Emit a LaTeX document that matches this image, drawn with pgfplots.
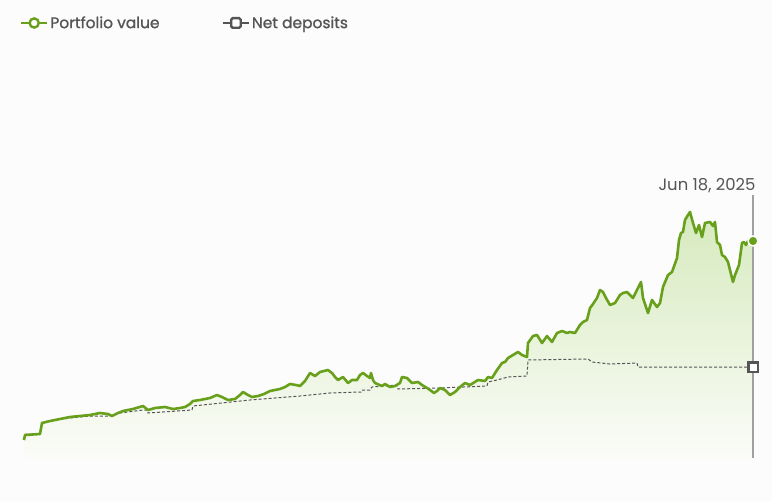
\documentclass[border=0pt]{standalone}
\usepackage{pgfplots}
\pgfplotsset{compat=1.18}
\usepackage{pgfplotstable}
\usepackage{fontspec}
\setmainfont{Poppins}
\newfontfamily\legfont[FakeBold=1.2]{Poppins}
\definecolor{pgreen}{RGB}{104,160,28}
\definecolor{dgrey}{RGB}{85,85,85}
\definecolor{bg}{RGB}{252,252,252}
\definecolor{vgrey}{RGB}{160,160,160}
\definecolor{ftop}{RGB}{214,234,190}
\definecolor{fbot}{RGB}{251,252,248}

\pgfplotsset{
 legcircle/.style={legend image code/.code={\draw[##1] (0bp,0bp) -- (26bp,0bp); \draw[##1,fill=white] (13bp,0bp) circle (4.6bp);}},
 legsquare/.style={legend image code/.code={\draw[##1] (0bp,0bp) -- (26bp,0bp); \draw[##1,fill=white,rounded corners=1.5bp] (8.5bp,-4.8bp) rectangle (18bp,4.8bp);}},
}

\pgfplotstableread{
x y
24 440
25 435
40 434
42 423
50 421
60 419
70 417
80 416
90 415
100 413
108 414
112 416
118 413
123 411
133 409
143 406
148 410
155 408
165 407
173 409
180 408
185 407
190 404
193 401
200 400
210 398
217 395
222 397
228 400
235 399
240 395
243 392
248 395
252 397
258 396
264 394
270 391
280 389
285 387
290 384
296 385
300 386
305 381
310 373
315 376
320 372
328 370
332 373
335 377
338 380
343 377
348 383
352 380
357 380
360 375
363 373
367 376
370 378
371 373
373 380
375 383
382 386
385 384
390 387
395 386
400 383
402 377
407 378
412 383
418 382
422 385
427 388
430 390
434 393
437 391
440 388
445 390
450 395
455 392
460 387
465 383
470 385
478 380
485 381
488 377
492 378
497 370
502 363
505 362
508 358
513 355
518 352
522 355
527 357
528 343
533 336
537 335
542 343
547 336
552 342
557 333
562 331
567 333
570 332
575 333
580 325
583 322
587 320
590 308
593 304
597 298
600 290
603 292
606 298
610 305
615 303
620 295
623 293
627 292
630 295
633 298
637 290
641 282
643 298
648 313
652 300
657 307
660 303
663 287
668 275
672 272
677 258
679 240
681 233
683 232
685 220
688 215
690 212
693 223
696 233
699 225
702 237
705 223
710 222
713 226
715 222
717 242
720 245
722 255
725 257
728 262
732 278
733 282
735 275
739 265
742 243
744 242
746 245
748 241
753 241
}\portfolio

\pgfplotstableread{
x y
24 440
26 434
40 434
42 423
50 421
70 418
90 416
110 416
120 413
143 410
147 410
148 413
192 410
193 406
250 400
300 396
330 393
361 392
362 390
370 390
372 387
397 385
398 389
440 388
487 386
488 382
497 380
508 377
527 376
528 360
588 359
592 362
610 364
637 363
638 367
753 367
}\deposits

\begin{document}
\begin{tikzpicture}
\begin{axis}[
 width=772bp, height=502bp, scale only axis,
 xmin=0, xmax=772, ymin=0, ymax=502, y dir=reverse,
 axis lines=none,
 clip=false,
 legend style={at={(axis cs:20,23)}, anchor=west, draw=none, fill=none,
   legend columns=2, font=\legfont\fontsize{15.5}{17}\selectfont, text=dgrey,
   inner sep=0pt, outer sep=0pt,
   /tikz/every even column/.append style={column sep=60bp}},
 legend cell align=left,
]
\fill[bg] (axis cs:0,0) rectangle (axis cs:772,502);
\addlegendimage{pgreen, line width=2.4bp, legcircle}
\addlegendentry{Portfolio value}
\addlegendimage{dgrey, line width=2.4bp, legsquare}
\addlegendentry{Net deposits}

\addplot[draw=none, top color=ftop, bottom color=fbot, forget plot]
  table {\portfolio} |- (axis cs:24,458) -- cycle;
\addplot[dgrey, line width=1bp, dash pattern=on 3bp off 2bp, forget plot] table {\deposits};
\addplot[pgreen, line width=2.6bp, line join=round, forget plot] table {\portfolio};
\addplot[vgrey, line width=1.2bp, forget plot] coordinates {(753,195) (753,458)};
\addplot[only marks, mark=*, mark size=5bp, mark options={fill=pgreen, draw=white, line width=1.5bp}, forget plot] coordinates {(753,241)};
\addplot[only marks, mark=square*, mark size=4.6bp, mark options={fill=white, draw=dgrey, line width=2.2bp, rounded corners=1.5bp}, forget plot] coordinates {(753,367)};
\node[text=dgrey, font=\fontsize{16.5}{18}\selectfont, anchor=base east] at (axis cs:759,190) {Jun 18, 2025};
\end{axis}
\end{tikzpicture}
\end{document}
